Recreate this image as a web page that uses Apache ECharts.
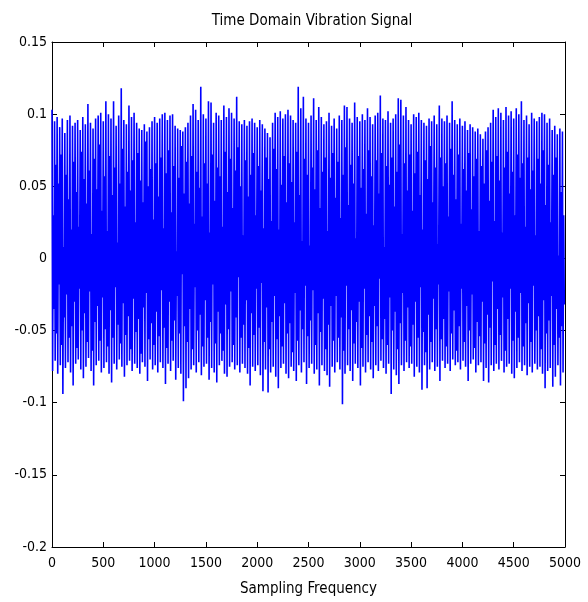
<!DOCTYPE html>
<html>
<head>
<meta charset="utf-8">
<script src="https://cdn.jsdelivr.net/npm/echarts@6/dist/echarts.min.js"></script>
<style>
html,body{margin:0;padding:0;background:#fff;}
#chart{width:588px;height:602px;}
</style>
</head>
<body>
<div id="chart"></div>
<script>
// Time-domain vibration signal in cycles of 25 samples.
// Per cycle: upper spike, lower spike, depth of the gap from above, height of the gap from below.
const sampleStep = 25;
const xTicks = [0,500,1000,1500,2000,2500,3000,3500,4000,4500,5000];
const yTicks = [-0.2,-0.15,-0.1,-0.05,0,0.05,0.1,0.15];

const upperPeaks = [
0.103,0.095,0.098,0.091,0.097,0.087,0.096,0.099,0.092,0.094,
0.096,0.089,0.098,0.093,0.107,0.094,0.090,0.097,0.099,0.101,
0.095,0.109,0.100,0.097,0.109,0.092,0.099,0.118,0.096,0.093,
0.106,0.098,0.101,0.094,0.090,0.089,0.093,0.088,0.091,0.095,
0.098,0.094,0.097,0.100,0.101,0.096,0.099,0.100,0.092,0.090,
0.089,0.088,0.091,0.094,0.099,0.107,0.103,0.096,0.119,0.100,
0.097,0.109,0.108,0.094,0.101,0.099,0.096,0.106,0.098,0.104,
0.101,0.097,0.112,0.095,0.093,0.096,0.092,0.095,0.097,0.094,
0.091,0.096,0.093,0.090,0.087,0.084,0.094,0.101,0.098,0.102,
0.097,0.100,0.103,0.099,0.096,0.094,0.119,0.104,0.112,0.097,
0.094,0.099,0.111,0.096,0.105,0.098,0.093,0.095,0.101,0.092,
0.097,0.090,0.099,0.096,0.106,0.105,0.097,0.094,0.108,0.098,
0.095,0.100,0.096,0.104,0.098,0.093,0.099,0.101,0.113,0.097,
0.096,0.102,0.094,0.097,0.100,0.111,0.110,0.099,0.105,0.096,
0.093,0.100,0.098,0.101,0.096,0.094,0.092,0.097,0.095,0.099,
0.093,0.106,0.097,0.095,0.099,0.094,0.109,0.096,0.093,0.097,
0.092,0.095,0.089,0.093,0.091,0.088,0.090,0.086,0.083,0.088,
0.091,0.094,0.103,0.098,0.104,0.101,0.096,0.105,0.099,0.102,
0.097,0.104,0.100,0.109,0.096,0.099,0.093,0.101,0.097,0.095,
0.098,0.101,0.100,0.094,0.097,0.089,0.092,0.086,0.090,0.088
];

const lowerPeaks = [
-0.078,-0.071,-0.080,-0.074,-0.094,-0.076,-0.072,-0.079,-0.088,-0.073,
-0.070,-0.077,-0.083,-0.075,-0.069,-0.078,-0.088,-0.074,-0.071,-0.079,
-0.076,-0.072,-0.080,-0.086,-0.073,-0.077,-0.070,-0.075,-0.082,-0.074,
-0.071,-0.078,-0.073,-0.076,-0.080,-0.072,-0.075,-0.085,-0.070,-0.077,
-0.074,-0.079,-0.072,-0.076,-0.087,-0.073,-0.078,-0.071,-0.084,-0.076,
-0.080,-0.099,-0.090,-0.083,-0.077,-0.074,-0.079,-0.072,-0.081,-0.075,
-0.073,-0.084,-0.076,-0.079,-0.086,-0.074,-0.071,-0.080,-0.082,-0.075,
-0.072,-0.077,-0.074,-0.079,-0.073,-0.076,-0.080,-0.088,-0.075,-0.078,
-0.074,-0.081,-0.092,-0.077,-0.093,-0.079,-0.075,-0.082,-0.090,-0.076,
-0.073,-0.080,-0.083,-0.075,-0.078,-0.085,-0.074,-0.079,-0.072,-0.087,
-0.076,-0.073,-0.080,-0.077,-0.088,-0.074,-0.078,-0.081,-0.089,-0.075,
-0.079,-0.072,-0.077,-0.101,-0.080,-0.074,-0.078,-0.085,-0.073,-0.076,
-0.088,-0.075,-0.079,-0.072,-0.077,-0.083,-0.074,-0.078,-0.071,-0.076,
-0.080,-0.073,-0.094,-0.077,-0.081,-0.087,-0.074,-0.078,-0.072,-0.076,
-0.073,-0.082,-0.075,-0.079,-0.091,-0.074,-0.090,-0.077,-0.072,-0.078,
-0.075,-0.085,-0.071,-0.076,-0.073,-0.078,-0.070,-0.074,-0.072,-0.077,
-0.071,-0.075,-0.085,-0.073,-0.070,-0.079,-0.074,-0.072,-0.085,-0.076,
-0.086,-0.074,-0.078,-0.073,-0.077,-0.071,-0.079,-0.075,-0.073,-0.080,
-0.083,-0.076,-0.072,-0.078,-0.074,-0.081,-0.075,-0.079,-0.073,-0.077,
-0.075,-0.080,-0.090,-0.078,-0.076,-0.089,-0.082,-0.074,-0.088,-0.079
];

const upperGaps = [
0.030,0.065,0.052,0.072,0.008,0.058,0.041,0.020,0.067,0.046,
0.022,0.074,0.055,0.038,0.061,0.017,0.069,0.048,0.079,0.033,
0.057,0.019,0.071,0.044,0.063,0.011,0.052,0.076,0.036,0.060,
0.047,0.068,0.025,0.073,0.054,0.039,0.081,0.050,0.062,0.027,
0.066,0.043,0.070,0.021,0.059,0.075,0.032,0.064,0.005,0.056,
0.078,0.045,0.067,0.038,0.071,0.024,0.060,0.049,0.029,0.066,
0.052,0.018,0.072,0.040,0.063,0.057,0.022,0.074,0.046,0.069,
0.035,0.061,0.077,0.050,0.016,0.068,0.043,0.058,0.073,0.030,
0.064,0.047,0.021,0.070,0.055,0.026,0.076,0.062,0.020,0.051,
0.071,0.039,0.066,0.053,0.025,0.074,0.044,0.012,0.069,0.058,
0.009,0.063,0.048,0.075,0.035,0.060,0.070,0.019,0.056,0.073,
0.042,0.067,0.028,0.058,0.077,0.037,0.065,0.052,0.014,0.071,
0.049,0.062,0.031,0.075,0.057,0.023,0.068,0.045,0.073,0.008,
0.064,0.051,0.070,0.036,0.060,0.079,0.017,0.066,0.047,0.072,
0.033,0.059,0.074,0.044,0.020,0.068,0.055,0.078,0.039,0.063,
0.010,0.070,0.050,0.066,0.029,0.076,0.058,0.041,0.072,0.024,
0.062,0.047,0.073,0.034,0.057,0.069,0.019,0.064,0.052,0.075,
0.040,0.067,0.026,0.071,0.054,0.018,0.063,0.074,0.045,0.060,
0.030,0.072,0.056,0.066,0.022,0.070,0.048,0.061,0.016,0.069,
0.052,0.075,0.037,0.065,0.025,0.058,0.070,0.002,0.046,0.030
];

const lowerGaps = [
-0.035,-0.052,-0.018,-0.060,-0.041,-0.025,-0.055,-0.047,-0.030,-0.062,
-0.021,-0.050,-0.038,-0.058,-0.023,-0.064,-0.044,-0.033,-0.057,-0.027,
-0.049,-0.061,-0.036,-0.055,-0.020,-0.046,-0.059,-0.031,-0.053,-0.040,
-0.063,-0.028,-0.051,-0.042,-0.066,-0.034,-0.024,-0.056,-0.045,-0.060,
-0.037,-0.054,-0.022,-0.048,-0.062,-0.030,-0.057,-0.043,-0.026,-0.052,
-0.011,-0.047,-0.058,-0.035,-0.063,-0.020,-0.050,-0.039,-0.061,-0.029,
-0.055,-0.044,-0.018,-0.059,-0.037,-0.052,-0.064,-0.032,-0.049,-0.023,
-0.060,-0.041,-0.013,-0.055,-0.046,-0.029,-0.062,-0.038,-0.053,-0.021,
-0.048,-0.017,-0.058,-0.034,-0.063,-0.044,-0.026,-0.056,-0.040,-0.061,
-0.031,-0.052,-0.045,-0.065,-0.024,-0.057,-0.036,-0.049,-0.019,-0.054,
-0.043,-0.022,-0.060,-0.038,-0.051,-0.028,-0.063,-0.046,-0.033,-0.057,
-0.026,-0.055,-0.041,-0.064,-0.019,-0.049,-0.036,-0.059,-0.044,-0.030,
-0.062,-0.021,-0.053,-0.040,-0.058,-0.033,-0.047,-0.014,-0.056,-0.042,
-0.060,-0.027,-0.050,-0.037,-0.063,-0.045,-0.024,-0.057,-0.034,-0.061,
-0.046,-0.030,-0.055,-0.020,-0.051,-0.065,-0.039,-0.058,-0.028,-0.049,
-0.018,-0.056,-0.042,-0.061,-0.023,-0.052,-0.036,-0.064,-0.047,-0.021,
-0.058,-0.033,-0.050,-0.025,-0.062,-0.044,-0.054,-0.030,-0.059,-0.039,
-0.048,-0.016,-0.060,-0.035,-0.053,-0.027,-0.064,-0.042,-0.021,-0.057,
-0.037,-0.055,-0.024,-0.061,-0.045,-0.031,-0.058,-0.019,-0.050,-0.040,
-0.063,-0.029,-0.052,-0.043,-0.026,-0.060,-0.035,-0.055,-0.047,-0.032
];

// Build the sample sequence: within each cycle the signal visits the upper spike,
// the lower spike, the upper gap and the lower gap.
const signal = [];
for (let c = 0; c < upperPeaks.length; c++) {
  const s0 = c * sampleStep;
  signal.push([s0, upperPeaks[c]]);
  signal.push([s0 + 6, lowerPeaks[c]]);
  signal.push([s0 + 12, upperGaps[c]]);
  signal.push([s0 + 18, lowerGaps[c]]);
}

const FONT = "'DejaVu Sans Condensed','Liberation Sans Narrow',sans-serif";
const axisLineStyle = { color: '#000', width: 1 };
const fmtY = v => String(+(+v).toFixed(2));
const fmtX = v => String(Math.round(v));

const chart = echarts.init(document.getElementById('chart'), null, { renderer: 'canvas' });
chart.setOption({
  animation: false,
  backgroundColor: '#fff',
  title: {
    text: 'Time Domain Vibration Signal',
    left: 307,
    top: 9,
    textAlign: 'center',
    textStyle: { fontFamily: FONT, fontSize: 15, fontWeight: 'normal', color: '#000' }
  },
  grid: { left: 52, right: 23, top: 42, bottom: 54, containLabel: false },
  xAxis: [
    {
      type: 'value', position: 'bottom', min: xTicks[0], max: xTicks[xTicks.length - 1],
      interval: xTicks[1] - xTicks[0],
      name: 'Sampling Frequency', nameLocation: 'middle', nameGap: 35,
      nameTextStyle: { fontFamily: FONT, fontSize: 15, color: '#000' },
      axisLine: { show: true, onZero: false, lineStyle: axisLineStyle },
      axisTick: { show: true, inside: true, length: 5, lineStyle: axisLineStyle },
      axisLabel: { fontFamily: FONT, fontSize: 14, color: '#000', margin: 9, formatter: fmtX },
      splitLine: { show: false }
    },
    {
      type: 'value', position: 'top', min: xTicks[0], max: xTicks[xTicks.length - 1],
      interval: xTicks[1] - xTicks[0],
      axisLine: { show: true, onZero: false, lineStyle: axisLineStyle },
      axisTick: { show: true, inside: true, length: 5, lineStyle: axisLineStyle },
      axisLabel: { show: false },
      splitLine: { show: false }
    }
  ],
  yAxis: [
    {
      type: 'value', position: 'left', min: yTicks[0], max: yTicks[yTicks.length - 1],
      interval: 0.05,
      axisLine: { show: true, onZero: false, lineStyle: axisLineStyle },
      axisTick: { show: true, inside: true, length: 5, lineStyle: axisLineStyle },
      axisLabel: { fontFamily: FONT, fontSize: 14, color: '#000', margin: 5, formatter: fmtY },
      splitLine: { show: false }
    },
    {
      type: 'value', position: 'right', min: yTicks[0], max: yTicks[yTicks.length - 1],
      interval: 0.05,
      axisLine: { show: true, onZero: false, lineStyle: axisLineStyle },
      axisTick: { show: true, inside: true, length: 5, lineStyle: axisLineStyle },
      axisLabel: { show: false },
      splitLine: { show: false }
    }
  ],
  series: [{
    type: 'line',
    xAxisIndex: 0,
    yAxisIndex: 0,
    data: signal,
    showSymbol: false,
    symbol: 'none',
    sampling: null,
    lineStyle: { color: '#0000ff', width: 1.6, join: 'bevel' },
    itemStyle: { color: '#0000ff' },
    clip: true,
    silent: true
  }]
});
</script>
</body>
</html>
